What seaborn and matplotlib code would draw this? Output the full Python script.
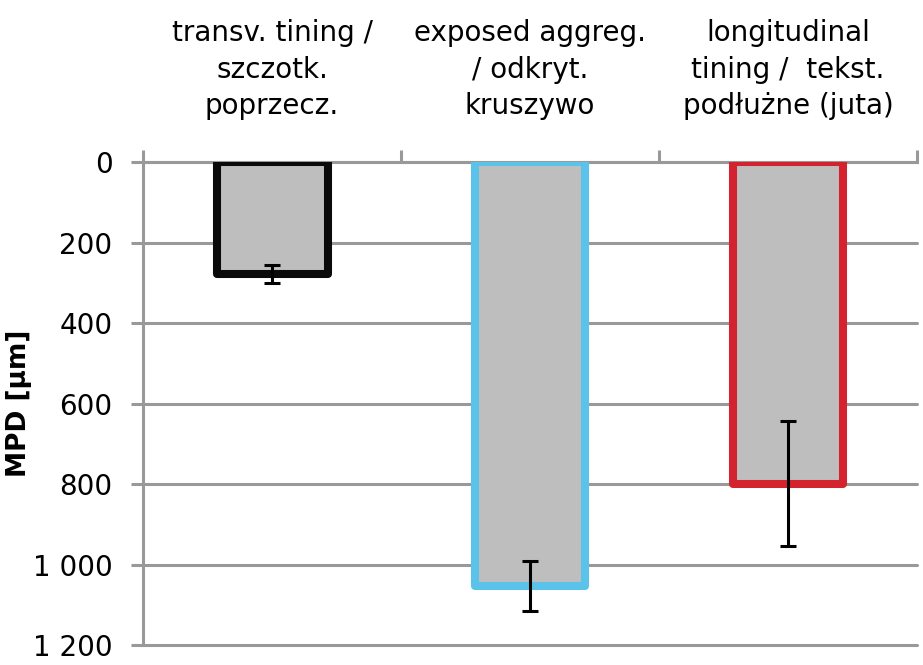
import numpy as np
import pandas as pd
import matplotlib
matplotlib.use("Agg")
import matplotlib.pyplot as plt
import seaborn as sns

# dane
categories = ["transv. tining /\nszczotk.\npoprzecz.",
              "exposed aggreg.\n/ odkryt.\nkruszywo",
              "longitudinal\ntining /  tekst.\npodłużne (juta)"]
mpd_values = [279, 1054, 799]
mpd_err = [22, 62, 155]
edge_colors = ["#0a0a0a", "#5bc3ea", "#d2232f"]
y_ticks = [0, 200, 400, 600, 800, 1000, 1200]
y_ticklabels = ["0", "200", "400", "600", "800", "1 000", "1 200"]

sns.set_style("white")
plt.rcParams['font.family'] = ['DejaVu Sans']
plt.rcParams['text.color'] = 'black'
plt.rcParams['xtick.labelcolor'] = 'black'
plt.rcParams['ytick.labelcolor'] = 'black'
plt.rcParams['axes.labelcolor'] = 'black'

df = pd.DataFrame({"cat": categories, "mpd": mpd_values})

fig = plt.figure(figsize=(9.23, 6.65), dpi=100)
ax = fig.add_axes([0.155, 0.030, 0.9935 - 0.155, 0.7564 - 0.030])

sns.barplot(data=df, x="cat", y="mpd", color="#bebebe", width=0.43,
            saturation=1, errorbar=None, ax=ax, zorder=3)
for patch, ec in zip(ax.patches, edge_colors):
    patch.set_edgecolor(ec)
    patch.set_linewidth(5.8)
    patch.set_joinstyle("round")

ax.errorbar(np.arange(len(categories)), mpd_values, yerr=mpd_err, fmt="none",
            ecolor="black", elinewidth=2.2, capsize=6, capthick=2.2, zorder=4)

ax.set_xlim(-0.5, 2.5)
ax.set_ylim(1200, 0)
ax.set_yticks(y_ticks)
ax.set_yticklabels(y_ticklabels, fontsize=20)
ax.yaxis.grid(True, color="#999999", linewidth=2.2, zorder=0)
for gl in ax.get_ygridlines():
    gl.set_clip_on(False)
ax.set_axisbelow(True)
ax.tick_params(axis="y", length=9, width=2.2, color="#999999", pad=13, left=True)

ax.xaxis.tick_top()
ax.set_xlabel("")
ax.set_xticks(range(len(categories)))
ax.set_xticklabels(categories, fontsize=20, linespacing=1.4)
ax.set_xticks([-0.5, 0.5, 1.5, 2.5], minor=True)
ax.tick_params(axis="x", which="major", length=0, pad=30)
ax.tick_params(axis="x", which="minor", top=True, length=9, width=2.2, color="#999999")

for side in ["right", "bottom"]:
    ax.spines[side].set_visible(False)
for side in ["left", "top"]:
    ax.spines[side].set_color("#999999")
    ax.spines[side].set_linewidth(2.2)

ax.set_ylabel("MPD [µm]", fontsize=19, fontweight="bold")
ax.yaxis.set_label_coords(-0.143, 0.5)

fig.savefig("out.png", dpi=100)
